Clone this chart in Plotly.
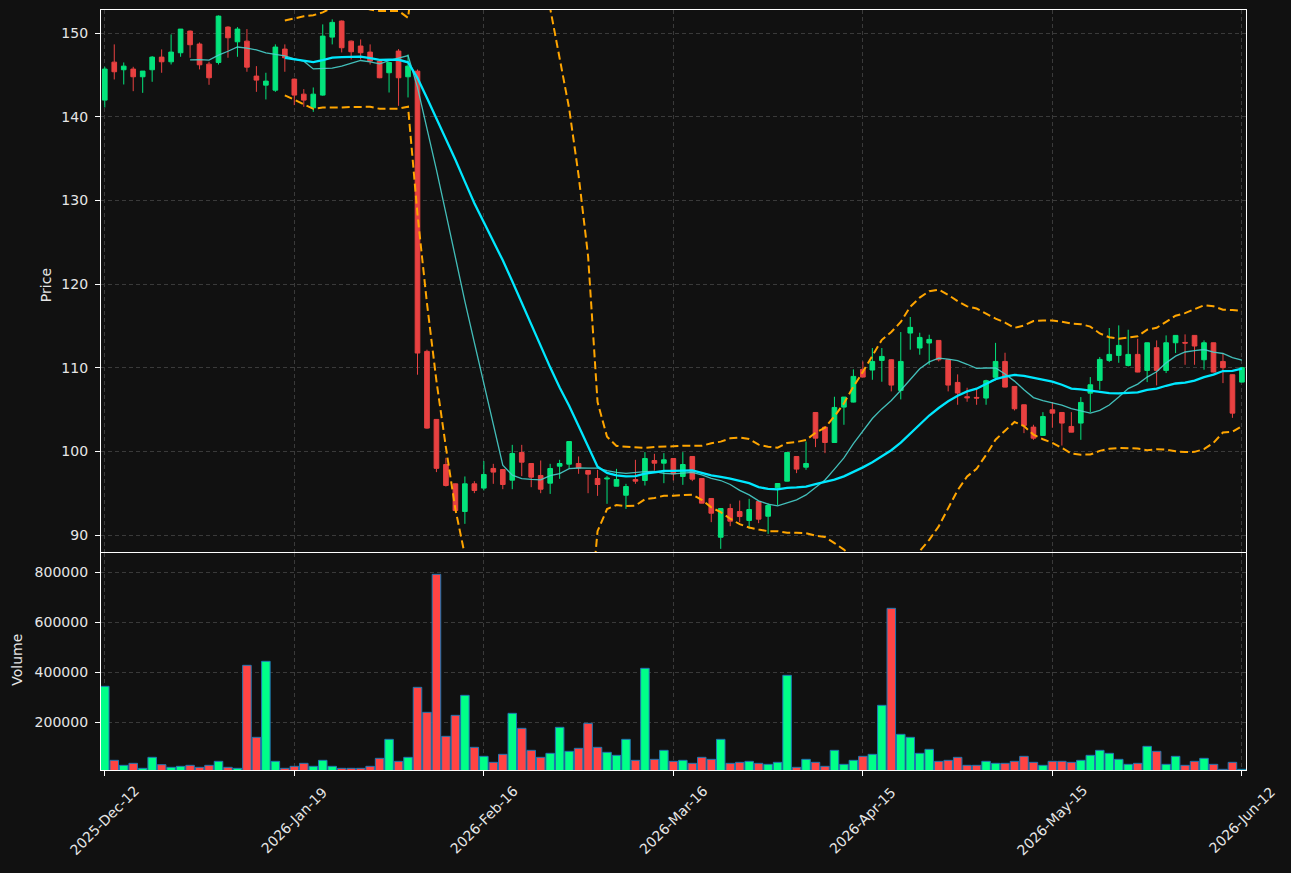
import numpy as np
import pandas as pd
import plotly.graph_objects as go

# ---------------- data ----------------
tick_labels = ["2025-Dec-12", "2026-Jan-19", "2026-Feb-16", "2026-Mar-16",
               "2026-Apr-15", "2026-May-15", "2026-Jun-12"]

opens = [141.98, 146.52, 145.61, 145.69, 144.77, 145.61, 147.12, 146.56, 147.64, 150.23,
         148.68, 146.28, 146.48, 150.71, 148.95, 149.03, 144.85, 143.77, 143.17, 148.08,
         144.49, 142.69, 141.06, 142.58, 149.51, 151.43, 149.03, 148.44, 147.72, 146.64,
         145.25, 147.84, 144.77, 145.44, 111.95, 103.82, 98.43, 96.12, 92.81, 96.12,
         95.61, 97.96, 97.83, 96.56, 99.87, 98.55, 97.12, 96.20, 98.23, 98.47,
         98.55, 97.71, 96.76, 96.70, 95.84, 94.76, 96.64, 96.52, 98.91, 98.59,
         99.15, 97.00, 99.39, 96.76, 94.37, 89.74, 93.17, 92.81, 91.74, 94.01,
         92.25, 95.64, 96.44, 99.39, 98.11, 104.65, 102.90, 101.06, 105.29, 105.89,
         109.80, 109.72, 110.87, 110.95, 107.29, 114.14, 112.35, 112.95, 113.26, 110.95,
         108.24, 106.53, 106.45, 106.37, 108.85, 110.75, 107.76, 105.57, 102.90, 101.90,
         104.97, 104.65, 102.98, 103.38, 106.96, 108.48, 110.87, 111.47, 110.27, 111.59,
         109.68, 112.39, 109.68, 112.98, 113.02, 113.86, 110.95, 112.98, 110.75, 109.16,
         108.28]
highs = [145.96, 148.64, 146.48, 145.96, 145.45, 147.24, 148.04, 149.83, 150.47, 150.30,
         148.87, 146.56, 152.10, 150.80, 150.71, 150.47, 146.04, 145.25, 148.64, 148.64,
         144.55, 143.29, 143.49, 151.03, 151.63, 151.50, 149.10, 149.23, 148.64, 146.88,
         146.50, 148.08, 147.44, 145.64, 112.15, 103.85, 99.23, 96.15, 97.00, 96.44,
         98.84, 98.51, 97.90, 100.78, 100.78, 98.60, 98.91, 98.51, 98.99, 101.20,
         99.39, 97.75, 97.79, 97.08, 97.91, 96.12, 98.99, 99.91, 99.71, 99.79,
         99.20, 99.91, 99.40, 96.80, 94.40, 93.20, 93.73, 94.13, 94.33, 94.05,
         93.81, 96.16, 99.90, 99.40, 101.18, 104.70, 102.95, 106.53, 106.50, 109.80,
         110.75, 112.35, 112.35, 111.00, 114.26, 116.06, 114.18, 113.94, 113.30, 111.00,
         109.20, 107.60, 107.48, 108.56, 112.97, 111.79, 107.80, 105.60, 103.18, 104.69,
         105.89, 104.70, 104.69, 106.49, 108.88, 111.27, 114.74, 115.06, 114.54, 113.46,
         113.00, 113.26, 113.86, 113.90, 113.98, 113.90, 113.26, 113.00, 111.75, 109.20,
         110.10]
lows = [141.10, 144.45, 143.85, 143.05, 142.85, 144.17, 145.25, 146.24, 147.16, 147.04,
        145.65, 143.81, 146.24, 147.04, 147.16, 145.37, 142.97, 142.06, 142.97, 145.37,
        141.38, 141.18, 140.58, 142.50, 148.64, 147.68, 146.84, 146.84, 146.24, 144.60,
        142.89, 141.30, 142.30, 109.16, 102.70, 97.52, 95.80, 92.90, 91.34, 95.01,
        95.33, 96.12, 95.48, 95.48, 97.04, 95.72, 95.00, 94.92, 96.72, 97.99,
        97.32, 95.00, 94.68, 93.73, 95.84, 93.13, 96.12, 95.92, 97.71, 96.20,
        96.52, 96.00, 96.44, 93.80, 91.54, 88.35, 91.06, 91.54, 90.74, 91.42,
        90.14, 93.57, 96.40, 97.40, 97.80, 100.51, 99.79, 101.00, 103.18, 105.85,
        108.85, 108.56, 108.32, 107.17, 106.21, 112.15, 111.55, 110.35, 110.75, 107.17,
        105.57, 105.93, 105.57, 105.57, 108.48, 107.65, 104.89, 102.18, 101.38, 101.88,
        102.82, 100.70, 102.28, 101.38, 104.69, 107.36, 110.67, 110.59, 110.15, 109.45,
        108.28, 107.88, 109.36, 111.75, 110.35, 110.35, 109.76, 109.45, 108.16, 104.01,
        108.25]
closes = [145.69, 145.37, 146.04, 144.77, 145.45, 147.12, 146.56, 147.72, 150.47, 148.60,
          146.20, 144.65, 152.02, 149.43, 150.47, 145.92, 144.37, 144.25, 148.32, 147.04,
          142.58, 141.98, 142.69, 149.63, 151.27, 148.24, 147.76, 147.64, 146.64, 144.65,
          146.48, 144.65, 146.04, 111.75, 102.78, 97.97, 95.92, 92.93, 96.12, 95.33,
          97.24, 97.52, 96.04, 99.75, 98.71, 96.92, 95.48, 97.95, 98.55, 101.18,
          98.03, 97.28, 96.04, 96.80, 96.64, 95.80, 96.44, 99.15, 98.59, 98.99,
          97.32, 98.43, 96.68, 93.81, 92.61, 93.17, 91.66, 92.21, 93.05, 91.90,
          93.53, 96.16, 99.87, 97.88, 98.55, 101.58, 101.06, 105.25, 106.49, 108.96,
          108.88, 110.75, 111.35, 107.92, 110.75, 114.82, 113.62, 113.38, 110.95, 107.92,
          106.97, 106.41, 106.37, 108.45, 110.75, 107.68, 105.09, 103.10, 101.58, 104.17,
          104.57, 103.38, 102.30, 105.85, 107.96, 110.99, 111.59, 112.67, 111.59, 109.48,
          112.98, 109.68, 112.98, 113.86, 112.94, 112.59, 112.98, 109.48, 110.00, 104.57,
          110.00]
volumes = [342700, 46700, 26700, 34700, 14700, 58700, 29300, 18700, 22700, 26700,
           18700, 26700, 42700, 18700, 14700, 426700, 138700, 442700, 42700, 14700,
           22700, 34700, 22700, 46700, 22700, 14700, 14700, 14700, 22700, 54700,
           130700, 42700, 58700, 338700, 238700, 790700, 142700, 226700, 306700, 98700,
           62700, 38700, 70700, 234700, 174700, 86700, 58700, 74700, 178700, 82700,
           94700, 194700, 98700, 78700, 66700, 130700, 46700, 414700, 50700, 86700,
           42700, 46700, 34700, 58700, 50700, 130700, 34700, 38700, 42700, 34700,
           30700, 38700, 386700, 18700, 50700, 38700, 22700, 86700, 30700, 46700,
           62700, 70700, 266700, 654700, 150700, 138700, 74700, 90700, 42700, 46700,
           58700, 26700, 26700, 42700, 34700, 34700, 42700, 62700, 38700, 26700,
           42700, 42700, 38700, 46700, 66700, 86700, 74700, 50700, 30700, 34700,
           102700, 82700, 30700, 62700, 26700, 42700, 54700, 30700, 10700, 38700,
           10700]

# ---------------- derived series ----------------
n = len(closes)
idx = list(range(n))
close_s = pd.Series(closes)
ma10 = close_s.rolling(10).mean()
ma20 = close_s.rolling(20).mean()
sd20 = close_s.rolling(20).std()
bb_up = ma20 + 2 * sd20
bb_lo = ma20 - 2 * sd20
tick_idx = list(range(0, n, 20))

GREEN_C = "#03e37c"
RED_C = "#e84141"
GREEN_V = "#00ff88"
RED_V = "#ff4444"
vol_colors = [GREEN_V if c >= o else RED_V for o, c in zip(opens, closes)]

BG = "#111111"
GRID = "#3a3a3a"
TXT = "#e6e6e6"
FONT = "DejaVu Sans"

fig = go.Figure()

fig.add_trace(go.Candlestick(
    x=idx, open=opens, high=highs, low=lows, close=closes,
    increasing=dict(line=dict(color=GREEN_C, width=1), fillcolor=GREEN_C),
    decreasing=dict(line=dict(color=RED_C, width=1), fillcolor=RED_C),
    whiskerwidth=0, showlegend=False, xaxis="x", yaxis="y", name="OHLC"))

fig.add_trace(go.Scatter(x=idx, y=ma10, mode="lines",
                         line=dict(color="rgba(72,209,204,0.9)", width=1.3),
                         showlegend=False, xaxis="x", yaxis="y", name="MA10"))
fig.add_trace(go.Scatter(x=idx, y=ma20, mode="lines",
                         line=dict(color="#00e8ff", width=2.3),
                         showlegend=False, xaxis="x", yaxis="y", name="MA20"))
for band in (bb_up, bb_lo):
    fig.add_trace(go.Scatter(x=idx, y=band, mode="lines",
                             line=dict(color="#ffa500", width=2, dash="8px,4px"),
                             showlegend=False, xaxis="x", yaxis="y", name="BB"))

fig.add_trace(go.Bar(x=idx, y=volumes, marker=dict(color=vol_colors,
                     line=dict(color="#1f77b4", width=1)),
                     width=0.9, showlegend=False, xaxis="x2", yaxis="y2", name="Volume"))

axis_common = dict(showline=True, linecolor="white", linewidth=1.3, mirror=True,
                   showgrid=True, gridcolor=GRID, griddash="4px,3px", gridwidth=1,
                   zeroline=False)

fig.update_layout(
    width=1291, height=873,
    paper_bgcolor=BG, plot_bgcolor=BG,
    margin=dict(l=101, r=45, t=10, b=103),
    font=dict(family=FONT, size=14, color=TXT),
    bargap=0.1,
    xaxis=dict(domain=[0, 1], anchor="y", range=[-0.4, 120.43],
               tickvals=tick_idx, showticklabels=False, ticks="",
               rangeslider=dict(visible=False), **axis_common),
    yaxis=dict(domain=[0.2868, 1], anchor="x", range=[87.97, 152.75],
               tick0=0, dtick=10, ticks="outside", ticklen=5, tickcolor="white",
               ticklabelstandoff=4, tickfont=dict(size=14, color=TXT),
               **axis_common),
    xaxis2=dict(domain=[0, 1], anchor="y2", matches="x", range=[-0.4, 120.43],
                tickvals=tick_idx, showticklabels=False, ticks="outside",
                ticklen=5, tickcolor="white", **axis_common),
    yaxis2=dict(domain=[0, 0.2855], anchor="x2", range=[8000, 876000],
                tickvals=[200000, 400000, 600000, 800000], tickformat="d",
                ticks="outside", ticklen=5, tickcolor="white", ticklabelstandoff=4,
                tickfont=dict(size=14, color=TXT), **axis_common),
)

annotations = []
for pos, lab in zip(tick_idx, tick_labels):
    annotations.append(dict(x=pos, xref="x2", y=-0.0658, yref="paper",
                            text=lab, textangle=-45, showarrow=False,
                            xanchor="center", yanchor="middle",
                            font=dict(size=14, color=TXT, family=FONT)))
annotations.append(dict(x=-0.048, xref="paper", y=0.638, yref="paper", text="Price",
                        textangle=-90, showarrow=False, xanchor="center", yanchor="middle",
                        font=dict(size=14, color=TXT, family=FONT)))
annotations.append(dict(x=-0.0734, xref="paper", y=0.145, yref="paper", text="Volume",
                        textangle=-90, showarrow=False, xanchor="center", yanchor="middle",
                        font=dict(size=14, color=TXT, family=FONT)))
fig.update_layout(annotations=annotations)

fig.write_html("out.html")
